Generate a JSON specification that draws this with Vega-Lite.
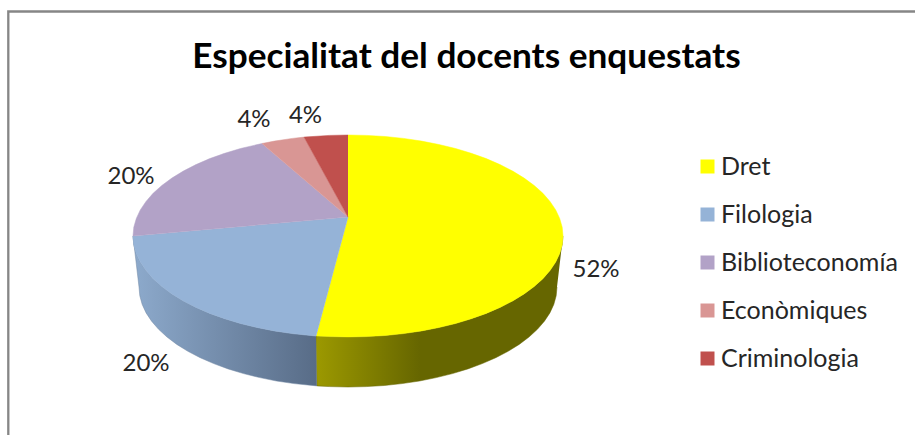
{"$schema":"https://vega.github.io/schema/vega-lite/v6.json","width":915,"height":435,"padding":0,"autosize":{"type":"none"},"background":"white","view":{"stroke":null},
"title":{"text":"Especialitat del docents enquestats","orient":"top","anchor":"middle","frame":"group","font":"Lato","fontSize":35.2,"fontWeight":"bold","color":"#000000","dx":9,"dy":75,"offset":0},
"config":{"axis":{"domain":false}},
"datasets":{
"shares":[{"slice":"Dret","share":0.52,"lx":596,"ly":270},{"slice":"Filologia","share":0.2,"lx":146,"ly":364},{"slice":"Biblioteconomía","share":0.2,"lx":131,"ly":177},{"slice":"Econòmiques","share":0.04,"lx":254,"ly":120},{"slice":"Criminologia","share":0.04,"lx":305.5,"ly":116}],
"frame":[{"x0":8.3,"x1":930,"y0":11.5,"y1":450}],
"dretSide":[{"i":0,"x":563,"y":236},{"i":1,"x":562.2,"y":244.8},{"i":2,"x":559.7,"y":253.5},{"i":3,"x":555.7,"y":262.1},{"i":4,"x":550,"y":270.5},{"i":5,"x":542.9,"y":278.7},{"i":6,"x":534.2,"y":286.5},{"i":7,"x":524.1,"y":293.9},{"i":8,"x":512.7,"y":300.9},{"i":9,"x":500,"y":307.4},{"i":10,"x":486.2,"y":313.4},{"i":11,"x":471.3,"y":318.7},{"i":12,"x":455.5,"y":323.5},{"i":13,"x":438.9,"y":327.5},{"i":14,"x":421.5,"y":330.9},{"i":15,"x":403.6,"y":333.6},{"i":16,"x":385.3,"y":335.5},{"i":17,"x":366.7,"y":336.6},{"i":18,"x":348,"y":337},{"i":19,"x":329.3,"y":336.6},{"i":20,"x":316,"y":336},{"i":21,"x":316.8,"y":385.9},{"i":22,"x":329.8,"y":386.6},{"i":23,"x":348,"y":387},{"i":24,"x":366.2,"y":386.6},{"i":25,"x":384.3,"y":385.5},{"i":26,"x":402.1,"y":383.6},{"i":27,"x":419.5,"y":381},{"i":28,"x":436.3,"y":377.6},{"i":29,"x":452.5,"y":373.6},{"i":30,"x":467.9,"y":368.9},{"i":31,"x":482.3,"y":363.6},{"i":32,"x":495.8,"y":357.7},{"i":33,"x":508.1,"y":351.3},{"i":34,"x":519.2,"y":344.4},{"i":35,"x":529,"y":337},{"i":36,"x":537.4,"y":329.3},{"i":37,"x":544.4,"y":321.2},{"i":38,"x":549.9,"y":312.9},{"i":39,"x":553.8,"y":304.4},{"i":40,"x":556.2,"y":295.7},{"i":41,"x":557,"y":287}],
"filoSide":[{"i":0,"x":316,"y":336},{"i":1,"x":292.4,"y":333.6},{"i":2,"x":274.5,"y":330.9},{"i":3,"x":257.1,"y":327.5},{"i":4,"x":240.5,"y":323.5},{"i":5,"x":224.7,"y":318.7},{"i":6,"x":209.8,"y":313.4},{"i":7,"x":196,"y":307.4},{"i":8,"x":183.3,"y":300.9},{"i":9,"x":171.9,"y":293.9},{"i":10,"x":161.8,"y":286.5},{"i":11,"x":153.1,"y":278.7},{"i":12,"x":146,"y":270.5},{"i":13,"x":140.3,"y":262.1},{"i":14,"x":136.3,"y":253.5},{"i":15,"x":133.8,"y":244.8},{"i":16,"x":133,"y":236},{"i":17,"x":139,"y":287},{"i":18,"x":139.8,"y":295.7},{"i":19,"x":142.2,"y":304.4},{"i":20,"x":146.1,"y":312.9},{"i":21,"x":151.6,"y":321.2},{"i":22,"x":158.6,"y":329.3},{"i":23,"x":167,"y":337},{"i":24,"x":176.8,"y":344.4},{"i":25,"x":187.9,"y":351.3},{"i":26,"x":200.2,"y":357.7},{"i":27,"x":213.7,"y":363.6},{"i":28,"x":228.1,"y":368.9},{"i":29,"x":243.5,"y":373.6},{"i":30,"x":259.7,"y":377.6},{"i":31,"x":276.5,"y":381},{"i":32,"x":293.9,"y":383.6},{"i":33,"x":316.8,"y":385.9}],
"dretTop":[{"i":0,"x":348,"y":217},{"i":1,"x":348,"y":135},{"i":2,"x":366.7,"y":135.4},{"i":3,"x":385.3,"y":136.5},{"i":4,"x":403.6,"y":138.4},{"i":5,"x":421.5,"y":141.1},{"i":6,"x":438.9,"y":144.5},{"i":7,"x":455.5,"y":148.5},{"i":8,"x":471.3,"y":153.3},{"i":9,"x":486.2,"y":158.6},{"i":10,"x":500,"y":164.6},{"i":11,"x":512.7,"y":171.1},{"i":12,"x":524.1,"y":178.1},{"i":13,"x":534.2,"y":185.5},{"i":14,"x":542.9,"y":193.3},{"i":15,"x":550,"y":201.5},{"i":16,"x":555.7,"y":209.9},{"i":17,"x":559.7,"y":218.5},{"i":18,"x":562.2,"y":227.2},{"i":19,"x":563,"y":236},{"i":20,"x":562.2,"y":244.8},{"i":21,"x":559.7,"y":253.5},{"i":22,"x":555.7,"y":262.1},{"i":23,"x":550,"y":270.5},{"i":24,"x":542.9,"y":278.7},{"i":25,"x":534.2,"y":286.5},{"i":26,"x":524.1,"y":293.9},{"i":27,"x":512.7,"y":300.9},{"i":28,"x":500,"y":307.4},{"i":29,"x":486.2,"y":313.4},{"i":30,"x":471.3,"y":318.7},{"i":31,"x":455.5,"y":323.5},{"i":32,"x":438.9,"y":327.5},{"i":33,"x":421.5,"y":330.9},{"i":34,"x":403.6,"y":333.6},{"i":35,"x":385.3,"y":335.5},{"i":36,"x":366.7,"y":336.6},{"i":37,"x":348,"y":337},{"i":38,"x":329.3,"y":336.6},{"i":39,"x":316,"y":336}],
"filoTop":[{"i":0,"x":348,"y":217},{"i":1,"x":316,"y":336},{"i":2,"x":292.4,"y":333.6},{"i":3,"x":274.5,"y":330.9},{"i":4,"x":257.1,"y":327.5},{"i":5,"x":240.5,"y":323.5},{"i":6,"x":224.7,"y":318.7},{"i":7,"x":209.8,"y":313.4},{"i":8,"x":196,"y":307.4},{"i":9,"x":183.3,"y":300.9},{"i":10,"x":171.9,"y":293.9},{"i":11,"x":161.8,"y":286.5},{"i":12,"x":153.1,"y":278.7},{"i":13,"x":146,"y":270.5},{"i":14,"x":140.3,"y":262.1},{"i":15,"x":136.3,"y":253.5},{"i":16,"x":133.8,"y":244.8},{"i":17,"x":133,"y":236}],
"biblioTop":[{"i":0,"x":348,"y":217},{"i":1,"x":133,"y":236},{"i":2,"x":133.8,"y":227.2},{"i":3,"x":136.3,"y":218.5},{"i":4,"x":140.3,"y":209.9},{"i":5,"x":146,"y":201.5},{"i":6,"x":153.1,"y":193.3},{"i":7,"x":161.8,"y":185.5},{"i":8,"x":171.9,"y":178.1},{"i":9,"x":183.3,"y":171.1},{"i":10,"x":196,"y":164.6},{"i":11,"x":209.8,"y":158.6},{"i":12,"x":224.7,"y":153.3},{"i":13,"x":240.5,"y":148.5},{"i":14,"x":262,"y":143.5}],
"econTop":[{"i":0,"x":348,"y":217},{"i":1,"x":262,"y":143.5},{"i":2,"x":274.5,"y":141.1},{"i":3,"x":292.4,"y":138.4},{"i":4,"x":304,"y":137.1}],
"crimTop":[{"i":0,"x":348,"y":217},{"i":1,"x":304,"y":137.1},{"i":2,"x":329.3,"y":135.4},{"i":3,"x":348,"y":135}]
},
"encoding":{
"x":{"field":"x","type":"quantitative","scale":{"domain":[0,915],"nice":false,"zero":false},"axis":null},
"y":{"field":"y","type":"quantitative","scale":{"domain":[435,0],"nice":false,"zero":false},"axis":null},
"order":{"field":"i"}
},
"layer":[
{"data":{"name":"dretSide"},"mark":{"type":"line","clip":false,"strokeWidth":0.5,"stroke":"#666600","fill":{"gradient":"linear","x1":0,"y1":0,"x2":1,"y2":0,"stops":[{"offset":0,"color":"#9C9900"},{"offset":0.42,"color":"#666600"},{"offset":1,"color":"#666600"}]}}},
{"data":{"name":"filoSide"},"mark":{"type":"line","strokeWidth":0.5,"stroke":"#7288A5","fill":{"gradient":"linear","x1":0,"y1":0,"x2":1,"y2":0,"stops":[{"offset":0,"color":"#8DAACC"},{"offset":1,"color":"#586C87"}]}}},
{"data":{"name":"dretTop"},"mark":{"type":"line","fill":"#FFFF00","stroke":"#FFFF00","strokeWidth":0.5}},
{"data":{"name":"filoTop"},"mark":{"type":"line","fill":"#95B3D7","stroke":"#95B3D7","strokeWidth":0.5}},
{"data":{"name":"biblioTop"},"mark":{"type":"line","fill":"#B2A2C7","stroke":"#B2A2C7","strokeWidth":0.5}},
{"data":{"name":"econTop"},"mark":{"type":"line","fill":"#D99694","stroke":"#D99694","strokeWidth":0.5}},
{"data":{"name":"crimTop"},"mark":{"type":"line","fill":"#C0504D","stroke":"#C0504D","strokeWidth":0.5}},
{"data":{"name":"frame"},"mark":{"type":"rect","fill":"transparent","stroke":"#868686","strokeWidth":2.3,"clip":false},
"encoding":{"x":{"field":"x0","type":"quantitative"},"x2":{"field":"x1"},"y":{"field":"y0","type":"quantitative"},"y2":{"field":"y1"},"order":{"value":null}}},
{"data":{"name":"shares"},"mark":{"type":"square","size":0,"opacity":1},
"encoding":{"x":{"field":"lx","type":"quantitative"},"y":{"field":"ly","type":"quantitative"},"order":{"value":null},
"color":{"field":"slice","type":"nominal","scale":{"domain":["Dret","Filologia","Biblioteconomía","Econòmiques","Criminologia"],"range":["#FFFF00","#95B3D7","#B2A2C7","#D99694","#C0504D"]},
"legend":{"title":null,"orient":"none","legendX":695,"legendY":154,"symbolType":"square","symbolSize":196,"symbolStrokeWidth":0,"symbolOpacity":1,"labelFont":"Lato","labelFontSize":25,"labelColor":"#262626","labelOffset":1,"rowPadding":22,"labelLimit":220,"padding":0}}}},
{"data":{"name":"shares"},"mark":{"type":"text","font":"Lato","fontSize":24,"color":"#262626","align":"center","baseline":"middle"},
"encoding":{"x":{"field":"lx","type":"quantitative"},"y":{"field":"ly","type":"quantitative"},"order":{"value":null},"text":{"field":"share","type":"quantitative","format":".0%"}}}
]}
